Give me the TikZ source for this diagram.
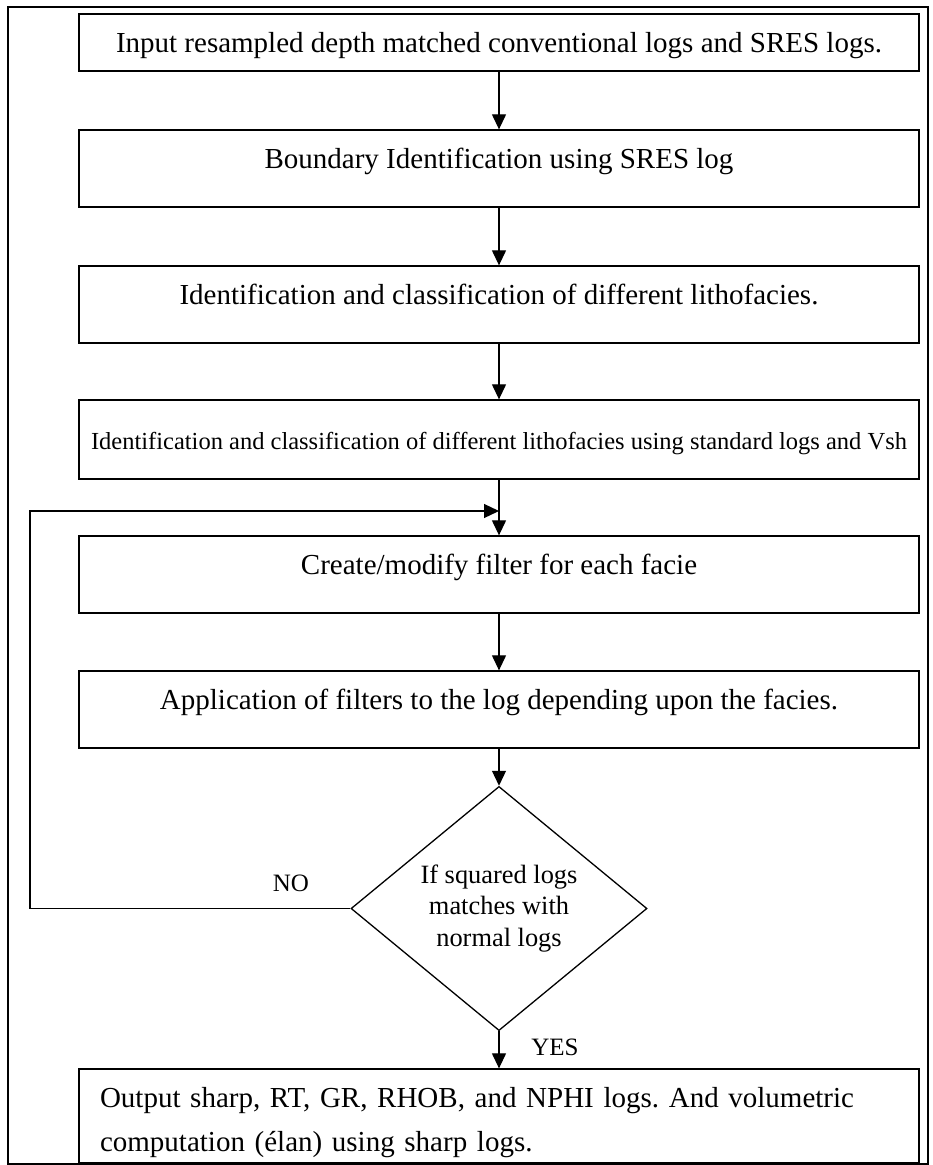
\documentclass[tikz,border=0pt]{standalone}
\usepackage{fontspec}
\setmainfont{Liberation Serif}
\usetikzlibrary{arrows.meta,shapes.geometric}

\begin{document}
\begin{tikzpicture}[x=1pt, y=-1pt,
	stepbox/.style={draw, line width=1.3pt, minimum width=840pt, inner sep=0pt,
		text height=19pt, text depth=0pt, font=\fontsize{29}{44}\selectfont},
	highbox/.style={stepbox, text depth=19pt},
	decide/.style={draw, diamond, line width=1.3pt, minimum width=296pt, minimum height=207pt,
		inner sep=0pt, align=center, font=\fontsize{26.4}{31.5}\selectfont},
	flow/.style={line width=1.2pt, -{Triangle[length=15pt, width=14pt]}},
	tag/.style={font=\fontsize{25}{30}\selectfont}]
	\useasboundingbox (0, 0) rectangle (933, 1165) ;
	\draw[line width=1.3pt] (8, 7) rectangle (928, 1164) ;

		\node (b1)[stepbox, minimum height=57pt] at (499, 42.5) {Input resampled depth matched conventional logs and SRES logs.} ;
		\node (b2)[highbox, minimum height=77pt] at (499, 168.5) {Boundary Identification using SRES log} ;
		\node (b3)[highbox, minimum height=77pt] at (499, 304.5) {Identification and classification of different lithofacies.} ;
		\node (b4)[stepbox, minimum height=79pt, font=\fontsize{24.5}{30}\selectfont] at (499, 439.5) {Identification and classification of different lithofacies using standard logs and Vsh} ;
		\node (b5)[highbox, minimum height=77pt] at (499, 574.5) {Create/modify filter for each facie} ;
		\node (b6)[highbox, minimum height=77pt] at (499, 709.5) {Application of filters to the log depending upon the facies.} ;
		\node (dec)[decide] at (499, 908.5) {If squared logs\\matches with\\normal logs} ;
		\node (b7)[draw, line width=1.3pt, minimum width=840pt, minimum height=94pt, inner xsep=21pt, inner ysep=0pt,
			text width=798pt, align=left, text height=34pt, font=\fontsize{29}{44}\selectfont\frenchspacing] at (499, 1116)
			{Output sharp, RT, GR, RHOB, and NPHI logs. And volumetric\\computation (élan) using sharp logs.} ;
        % \node (no)[tag, anchor=base] at (291, 892) {NO} ;
		\node (no)[tag] at (291, 883) {NO} ;
		\node (yes)[tag] at (555, 1047) {YES} ;
		\coordinate (lp) at (30, 511) ;
		\coordinate (join) at (499, 511) ;

	\draw[flow] (b1) -- (b2) ;
	\draw[flow] (b2) -- (b3) ;
	\draw[flow] (b3) -- (b4) ;
	\draw[flow] (b4) -- (b5) ;
	\draw[flow] (b5) -- (b6) ;
	\draw[flow] (b6) -- (dec) ;
	\draw[flow] (dec) -- (b7) ;
	% back to the filter step
	\draw[flow] (dec.west) -| (lp) -- (join) ;
\end{tikzpicture}
\end{document}
